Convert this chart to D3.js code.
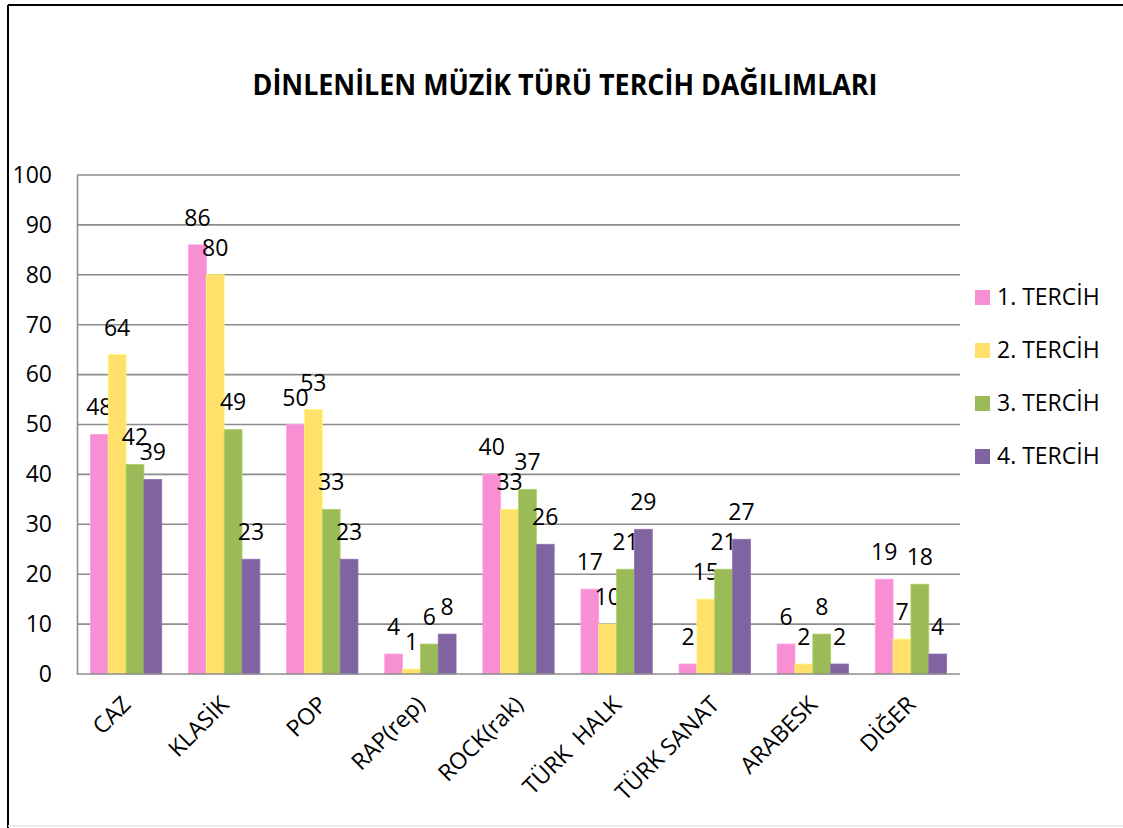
<!DOCTYPE html>
<html>
<head>
<meta charset="utf-8">
<script src="https://cdn.jsdelivr.net/npm/d3@7"></script>
<style>
  body { margin: 0; background: #fff; }
  text { font-family: "Open Sans", sans-serif; fill: #000; }
</style>
</head>
<body>
<svg id="container" width="1123" height="828"></svg>
<script>
let width = 1123,
    height = 828;

// data
let categories = ["CAZ", "KLASİK", "POP", "RAP(rep)", "ROCK(rak)", "TÜRK  HALK", "TÜRK SANAT", "ARABESK", "DİĞER"]
let seriesNames = ["1. TERCİH", "2. TERCİH", "3. TERCİH", "4. TERCİH"]
let tercih1 = [48, 86, 50, 4, 40, 17, 2, 6, 19]
let tercih2 = [64, 80, 53, 1, 33, 10, 15, 2, 7]
let tercih3 = [42, 49, 33, 6, 37, 21, 21, 8, 18]
let tercih4 = [39, 23, 23, 8, 26, 29, 27, 2, 4]
let yTicks = [0, 10, 20, 30, 40, 50, 60, 70, 80, 90, 100]
let colors = ["#F88FD2", "#FFE06A", "#9BBB59", "#8064A2"]

let series = [tercih1, tercih2, tercih3, tercih4]

let svg = d3.select("#container")

// outer frame
svg.append("line").attr("x1", 8).attr("y1", 5).attr("x2", width).attr("y2", 5)
    .attr("stroke", "#000").attr("stroke-width", 2)
svg.append("line").attr("x1", 8).attr("y1", 5).attr("x2", 8).attr("y2", height)
    .attr("stroke", "#000").attr("stroke-width", 2)
svg.append("line").attr("x1", 8).attr("y1", 826).attr("x2", width).attr("y2", 826)
    .attr("stroke", "#e6e6e6").attr("stroke-width", 1.5)

svg.append("text")
    .attr("x", 565)
    .attr("y", 95)
    .attr("text-anchor", "middle")
    .attr("font-size", "29px")
    .attr("font-weight", 700)
    .attr("textLength", 625)
    .attr("lengthAdjust", "spacingAndGlyphs")
    .text("DİNLENİLEN MÜZİK TÜRÜ TERCİH DAĞILIMLARI")

let x0 = d3.scaleBand()
    .domain(categories)
    .range([77, 960])
    .paddingInner(0.2727)
    .paddingOuter(0.1364)

let x1 = d3.scaleBand()
    .domain(d3.range(seriesNames.length))
    .range([0, x0.bandwidth()])

let yScale = d3.scaleLinear()
    .domain([0, 100])
    .range([674, 175])

// gridlines
svg.append("g")
    .selectAll("line")
    .data(yTicks.slice(1))
    .enter()
    .append("line")
    .attr("x1", 77)
    .attr("x2", 960)
    .attr("y1", d => yScale(d))
    .attr("y2", d => yScale(d))
    .attr("stroke", "#8c8c8c")
    .attr("stroke-width", 1.6)

// y axis
let y = svg.append("g")
    .attr("transform", "translate(77,0)")
    .call(d3.axisLeft(yScale).tickValues(yTicks).tickSize(0).tickPadding(25))
y.select(".domain").attr("stroke", "#8c8c8c").attr("stroke-width", 1.6)
y.selectAll("text")
    .attr("font-size", "23px")
    .attr("font-family", "Open Sans, sans-serif")
    .attr("fill", "#000")

// bars
let groups = svg.append("g")
    .selectAll("g")
    .data(series)
    .enter()
    .append("g")
    .attr("fill", (d, i) => colors[i])

groups.each(function(vals, si) {
    let g = d3.select(this)
    g.selectAll("rect")
        .data(vals)
        .enter()
        .append("rect")
        .attr("x", (d, ci) => x0(categories[ci]) + x1(si))
        .attr("width", x1.bandwidth())
        .attr("y", d => yScale(d))
        .attr("height", d => yScale(0) - yScale(d))
        .attr("stroke", d3.color(colors[si]).brighter(0.3))
        .attr("stroke-width", 0.8)

    g.selectAll("text")
        .data(vals)
        .enter()
        .append("text")
        .attr("x", (d, ci) => x0(categories[ci]) + x1(si) + x1.bandwidth() / 2)
        .attr("y", d => yScale(d) - 19)
        .attr("text-anchor", "middle")
        .attr("font-size", "23px")
        .style("fill", "#000")
        .text(d => d)
})

// x axis line
svg.append("line")
    .attr("x1", 77).attr("x2", 960)
    .attr("y1", yScale(0)).attr("y2", yScale(0))
    .attr("stroke", "#8c8c8c").attr("stroke-width", 1.6)

// category labels
svg.append("g")
    .selectAll("text")
    .data(categories)
    .enter()
    .append("text")
    .attr("transform", d => "translate(" + (x0(d) + x0.bandwidth() / 2 + 6) + ",706) rotate(-45)")
    .attr("text-anchor", "end")
    .attr("font-size", "23px")
    .style("white-space", "pre")
    .text(d => d)

// legend
let legend = svg.append("g")
    .selectAll("g")
    .data(seriesNames)
    .enter()
    .append("g")
    .attr("transform", (d, i) => "translate(975," + (290 + i * 53) + ")")

legend.append("rect")
    .attr("width", 15)
    .attr("height", 15)
    .attr("fill", (d, i) => colors[i])

legend.append("text")
    .attr("x", 22)
    .attr("y", 15)
    .attr("font-size", "23px")
    .text(d => d)
</script>
</body>
</html>
